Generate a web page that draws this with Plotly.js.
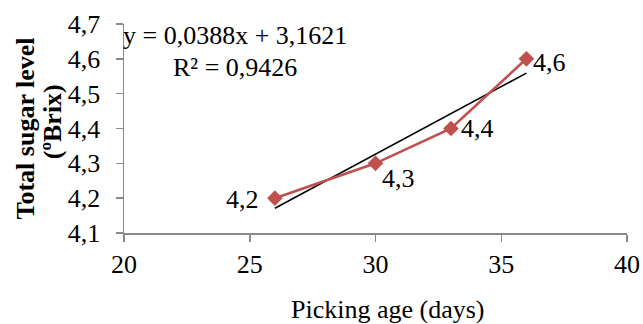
<!DOCTYPE html>
<html>
<head>
<meta charset="utf-8">
<script src="https://cdn.plot.ly/plotly-3.0.1.min.js"></script>
<style>html,body{margin:0;padding:0;background:#fff;}#chart{width:643px;height:324px;}</style>
</head>
<body>
<div id="chart"></div>
<script>
// Data
const pickingAge = [26, 30, 33, 36];
const sugarLevel = [4.2, 4.3, 4.4, 4.6];
const trendX = [26, 36];
const trendY = [4.171, 4.559];
const xTicks = [20, 25, 30, 35, 40];
const yTicks = [4.1, 4.2, 4.3, 4.4, 4.5, 4.6, 4.7];
const equationText = "y = 0,0388x + 3,1621";
const r2Text = "R² = 0,9426";
const xTitle = "Picking age (days)";
const yTitleLines = ["Total sugar level", "(ºBrix)"];

// Label placement (style only)
const labelPlace = [
  {xanchor: 'right', yanchor: 'middle', xshift: -14, yshift: -1},
  {xanchor: 'left', yanchor: 'top', xshift: 4, yshift: 1},
  {xanchor: 'left', yanchor: 'middle', xshift: 8, yshift: 0},
  {xanchor: 'left', yanchor: 'middle', xshift: 5, yshift: -4}
];

const serif = "Liberation Serif, Times New Roman, serif";
const fmt = v => v.toFixed(1).replace('.', ',');

const traces = [
  {
    x: trendX, y: trendY, type: 'scatter', mode: 'lines',
    line: {color: '#000000', width: 1.6}, hoverinfo: 'skip', showlegend: false
  },
  {
    x: pickingAge, y: sugarLevel, type: 'scatter', mode: 'lines+markers',
    line: {color: '#C0504D', width: 2.6},
    marker: {symbol: 'diamond', size: 12, color: '#C0504D'},
    showlegend: false
  }
];

const annotations = pickingAge.map((x, i) => Object.assign({
  x: x, y: sugarLevel[i], xref: 'x', yref: 'y', text: fmt(sugarLevel[i]),
  showarrow: false, font: {family: serif, size: 26, color: '#000'}
}, labelPlace[i]));

annotations.push(
  {xref: 'paper', yref: 'paper', x: 0.2197, y: 0.9426, xanchor: 'center', yanchor: 'middle',
   text: equationText, showarrow: false, font: {family: serif, size: 26, color: '#000'}},
  {xref: 'paper', yref: 'paper', x: 0.2197, y: 0.794, xanchor: 'center', yanchor: 'middle',
   text: r2Text, showarrow: false, font: {family: serif, size: 26, color: '#000'}},
  {xref: 'paper', yref: 'paper', x: 0.525, y: -0.365, xanchor: 'center', yanchor: 'middle',
   text: xTitle, showarrow: false, font: {family: serif, size: 26, color: '#000'}},
  {xref: 'paper', yref: 'paper', x: (25 - 124) / 503, y: 0.5, xanchor: 'center', yanchor: 'middle',
   textangle: -90, text: '<b>' + yTitleLines[0] + '</b>', showarrow: false,
   font: {family: serif, size: 26, color: '#000'}},
  {xref: 'paper', yref: 'paper', x: (52 - 124) / 503, y: 0.53, xanchor: 'center', yanchor: 'middle',
   textangle: -90, text: '<b>' + yTitleLines[1] + '</b>', showarrow: false,
   font: {family: serif, size: 26, color: '#000'}}
);

const layout = {
  width: 643, height: 324,
  margin: {l: 124, r: 16, t: 24, b: 91},
  paper_bgcolor: '#fff', plot_bgcolor: '#fff',
  separators: ', ',
  font: {family: serif, size: 26, color: '#000'},
  xaxis: {
    range: [20, 40], tickvals: xTicks, ticktext: xTicks.map(String),
    showgrid: false, zeroline: false, showline: true, linecolor: '#898989', linewidth: 1.5,
    ticks: 'outside', ticklen: 7, tickcolor: '#898989', tickwidth: 1.5,
    tickfont: {family: serif, size: 26, color: '#000'}, fixedrange: true
  },
  yaxis: {
    range: [4.1, 4.7], tickvals: yTicks, ticktext: yTicks.map(fmt),
    showgrid: false, zeroline: false, showline: true, linecolor: '#898989', linewidth: 1.5,
    ticks: 'outside', ticklen: 7, tickcolor: '#898989', tickwidth: 1.5, ticklabelstandoff: 10,
    tickfont: {family: serif, size: 26, color: '#000'}, fixedrange: true
  },
  annotations: annotations,
  showlegend: false
};

Plotly.newPlot('chart', traces, layout, {displayModeBar: false, staticPlot: true});
</script>
</body>
</html>
